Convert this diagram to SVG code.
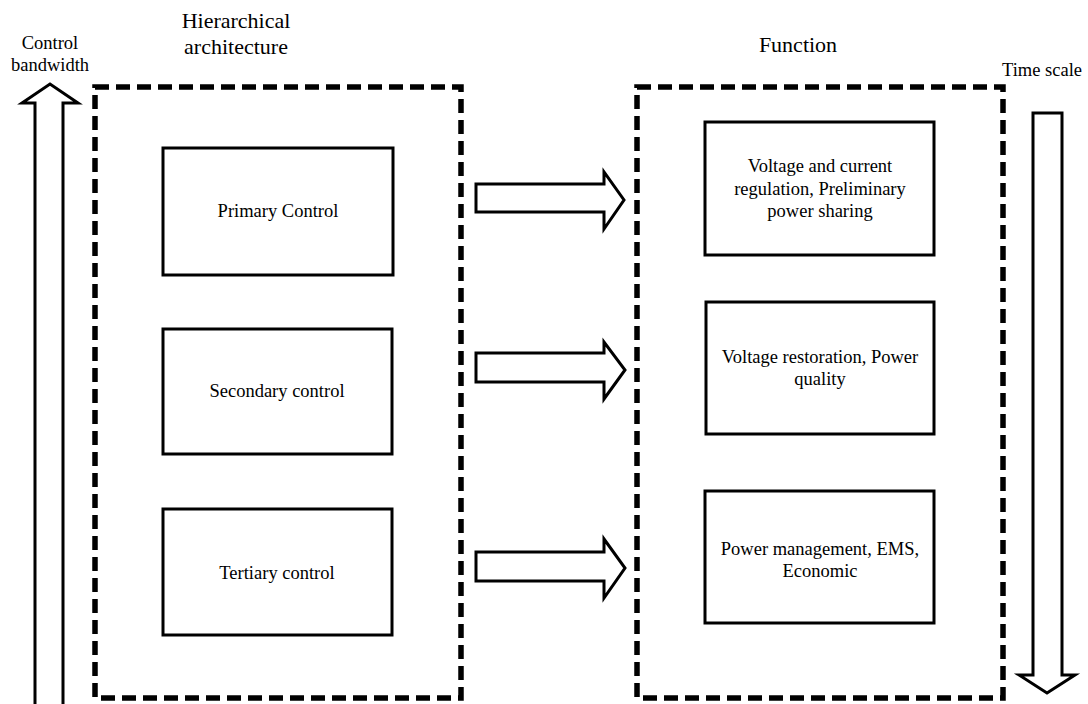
<svg xmlns="http://www.w3.org/2000/svg" width="1088" height="704" viewBox="0 0 1088 704">
<style>
text{font-family:"Liberation Serif","Times New Roman",serif;fill:#000;text-anchor:middle}
.lbl{font-size:22px}
.sm{font-size:18.5px}
.box{fill:#fff;stroke:#000;stroke-width:3}
.dash{fill:none;stroke:#000;stroke-width:5.5;stroke-dasharray:14 7}
.arr{fill:#fff;stroke:#000;stroke-width:3;stroke-linejoin:miter}
</style>
<rect width="1088" height="704" fill="#fff"/>
<g id="labels">
<text class="sm" x="50" y="49">Control</text>
<text class="sm" x="50" y="71">bandwidth</text>
<text class="lbl" x="236" y="28">Hierarchical</text>
<text class="lbl" x="236" y="54">architecture</text>
<text class="lbl" x="798" y="52">Function</text>
<text class="sm" x="1042" y="76">Time scale</text>
</g>
<g id="architecture-group">
<rect class="dash" x="95" y="87" width="366" height="611"/>
</g>
<g id="function-group">
<rect class="dash" x="637" y="87" width="366" height="611"/>
</g>
<g id="primary">
<rect class="box" x="163" y="148" width="230" height="127"/>
<text class="sm" x="278" y="217">Primary Control</text>
</g>
<g id="secondary">
<rect class="box" x="163" y="329" width="229" height="125"/>
<text class="sm" x="277" y="397">Secondary control</text>
</g>
<g id="tertiary">
<rect class="box" x="163" y="509" width="229" height="126"/>
<text class="sm" x="277" y="579">Tertiary control</text>
</g>
<g id="f1">
<rect class="box" x="705" y="122" width="229" height="133"/>
<text class="sm" x="820" y="172">Voltage and current</text>
<text class="sm" x="820" y="195">regulation, Preliminary</text>
<text class="sm" x="820" y="217">power sharing</text>
</g>
<g id="f2">
<rect class="box" x="706" y="302" width="228" height="132"/>
<text class="sm" x="820" y="363">Voltage restoration, Power</text>
<text class="sm" x="820" y="385">quality</text>
</g>
<g id="f3">
<rect class="box" x="705" y="491" width="229" height="132"/>
<text class="sm" x="820" y="555">Power management, EMS,</text>
<text class="sm" x="820" y="577">Economic</text>
</g>
<g id="connectors">
<path class="arr" d="M35,710 L35,103 L22,103 L50,84 L78,103 L63,103 L63,710"/>
<path class="arr" d="M1033,113 L1062,113 L1062,675 L1075,675 L1047,693 L1019,675 L1033,675 Z"/>
<path class="arr" d="M476,184 L604,184 L604,172 L624,200 L604,229 L604,212 L476,212 Z"/>
<path class="arr" d="M476,353 L604,353 L604,342 L625,370 L604,399 L604,382 L476,382 Z"/>
<path class="arr" d="M476,552 L604,552 L604,539 L625,568 L604,598 L604,581 L476,581 Z"/>
</g>
</svg>
